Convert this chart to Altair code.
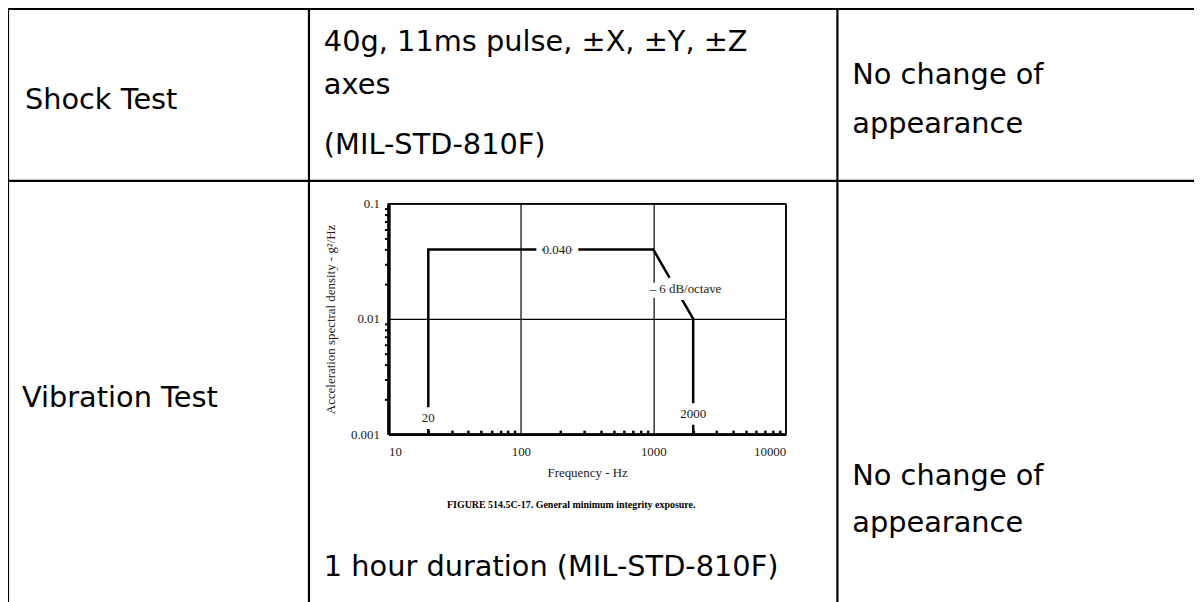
import altair as alt
import pandas as pd

# ---------------- data ----------------
freq_hz = [20, 20, 1000, 2000, 2000]
asd_g2hz = [0.001, 0.04, 0.04, 0.01, 0.001]

x_major = [10, 100, 1000, 10000]
y_major = [0.001, 0.01, 0.1]
x_minor = [20, 30, 40, 50, 60, 70, 80, 90,
           200, 300, 400, 500, 600, 700, 800, 900,
           2000, 3000, 4000, 5000, 6000, 7000, 8000, 9000]
y_minor = [0.002, 0.003, 0.004, 0.005, 0.006, 0.007, 0.008, 0.009,
           0.02, 0.03, 0.04, 0.05, 0.06, 0.07, 0.08, 0.09]

annot_text = ["0.040", "\u2013 6 dB/octave", "20", "2000"]
annot_x = [188, 1750, 20, 2000]
annot_y = [0.04, 0.01815, 0.00137, 0.00149]

row_labels = ["Shock Test", "Vibration Test"]
shock_lines = ["40g, 11ms pulse, \u00b1X, \u00b1Y, \u00b1Z", "axes", "(MIL-STD-810F)"]
result_lines = ["No change of", "appearance"]
vib_caption = "FIGURE 514.5C-17.  General minimum integrity exposure."
vib_note = "1 hour duration (MIL-STD-810F)"
x_title = "Frequency - Hz"
y_title = "Acceleration spectral density - g\u00b2/Hz"

# ---------------- layout ----------------
W, H = 400, 232
OX, OY = 391, 203          # page position of the plot origin
PAD_L, PAD_T = OX - 8, OY - 8
TOTAL_W, TOTAL_H = 1194, 594


def px(X):
    return X - OX


def py(Y):
    return Y - OY


SERIF = "Liberation Serif"
SANS = "DejaVu Sans"
TXT = 29
GREY = "#222222"
FS = 13

xs = alt.Scale(type="log", domain=[10, 10000])
ys = alt.Scale(type="log", domain=[0.001, 0.1])

prof_df = pd.DataFrame({"f": freq_hz, "a": asd_g2hz, "i": list(range(len(freq_hz)))})

profile = alt.Chart(prof_df).mark_line(color="black", strokeWidth=2.5).encode(
    x=alt.X("f:Q", scale=xs, axis=alt.Axis(
        values=x_major, format="~g", grid=True, gridColor="black", gridWidth=1.2,
        gridOpacity=1, ticks=False, tickSize=0, labelFont=SERIF, labelFontSize=FS,
        labelColor=GREY, labelPadding=12, domainColor="black", domainWidth=3,
        title=x_title, titleFont=SERIF, titleFontSize=FS, titleFontWeight="normal",
        titleColor=GREY, titleY=39, titleBaseline="middle")),
    y=alt.Y("a:Q", scale=ys, axis=alt.Axis(
        values=y_major, format="~g", grid=True, gridColor="black", gridWidth=1.2,
        gridOpacity=1, ticks=False, tickSize=0, labelFont=SERIF, labelFontSize=FS,
        labelColor=GREY, labelPadding=9, domainColor="black", domainWidth=3.5,
        title=y_title, titleFont=SERIF, titleFontSize=FS, titleFontWeight="normal",
        titleColor=GREY, titleX=-58, titleY=H / 2, titleBaseline="middle",
        titleAngle=-90)),
    order=alt.Order("i:Q"),
)

minor_x = alt.Chart(pd.DataFrame({"f": x_minor})).mark_point(opacity=0).encode(
    x=alt.X("f:Q", scale=xs, axis=alt.Axis(
        orient="top", offset=-H, values=x_minor, labels=False, domain=False,
        grid=False, tickSize=4, tickWidth=2.5, tickColor="black", title=None)),
)

minor_y = alt.Chart(pd.DataFrame({"a": y_minor})).mark_point(opacity=0).encode(
    y=alt.Y("a:Q", scale=ys, axis=alt.Axis(
        orient="left", values=y_minor, labels=False, domain=False,
        grid=False, tickSize=4, tickWidth=2, tickColor="black", title=None)),
)

annot_df = pd.DataFrame({"t": annot_text, "f": annot_x, "a": annot_y})
halo = alt.Chart(annot_df).mark_text(
    font=SERIF, fontSize=FS, color="white", stroke="white", strokeWidth=14,
    strokeJoin="round").encode(
    x=alt.X("f:Q", scale=xs, axis=None),
    y=alt.Y("a:Q", scale=ys, axis=None),
    text="t:N",
)
annot = alt.Chart(annot_df).mark_text(font=SERIF, fontSize=FS, color=GREY).encode(
    x=alt.X("f:Q", scale=xs, axis=None),
    y=alt.Y("a:Q", scale=ys, axis=None),
    text="t:N",
)

one = pd.DataFrame({"k": [0]})


def hline(Y, X1, X2, w=2.2):
    return alt.Chart(one).mark_rule(color="black", strokeWidth=w).encode(
        x=alt.value(px(X1)), x2=alt.value(px(X2)), y=alt.value(py(Y)))


def vline(X, Y1, Y2, w=2.2):
    return alt.Chart(one).mark_rule(color="black", strokeWidth=w).encode(
        x=alt.value(px(X)), y=alt.value(py(Y1)), y2=alt.value(py(Y2)))


def txt(s, X, Y, align="left", font=SANS, size=TXT, weight="normal", color="black"):
    return alt.Chart(pd.DataFrame({"t": [s]})).mark_text(
        align=align, baseline="alphabetic", font=font, fontSize=size,
        fontWeight=weight, color=color).encode(
        x=alt.value(px(X)), y=alt.value(py(Y)), text="t:N")


table = [
    hline(7, 8, 1210),
    hline(180, 8, 1210),
    vline(8, 7, 610),
    vline(311, 7, 610),
    vline(843, 7, 610),
    txt(row_labels[0], 25, 108),
    txt(row_labels[1], 22, 408),
    txt(shock_lines[0], 326, 49),
    txt(shock_lines[1], 326, 93),
    txt(shock_lines[2], 326, 153),
    txt(result_lines[0], 858, 83),
    txt(result_lines[1], 858, 132),
    txt(result_lines[0], 858, 486),
    txt(result_lines[1], 858, 534),
    txt(vib_note, 326, 578),
    txt(vib_caption, 575, 509, align="center", font=SERIF, size=10, weight="bold"),
]

chart = alt.layer(
    profile, minor_x, minor_y, halo, annot, *table
).resolve_axis(
    x="independent", y="independent"
).properties(
    width=W, height=H,
    autosize=alt.AutoSizeParams(type="none"),
    padding={"left": PAD_L, "top": PAD_T,
             "right": TOTAL_W - PAD_L - W, "bottom": TOTAL_H - PAD_T - H},
).configure_view(stroke="black", strokeWidth=1.5)

chart.save("out.html", embed_options={"renderer": "svg", "actions": False})
